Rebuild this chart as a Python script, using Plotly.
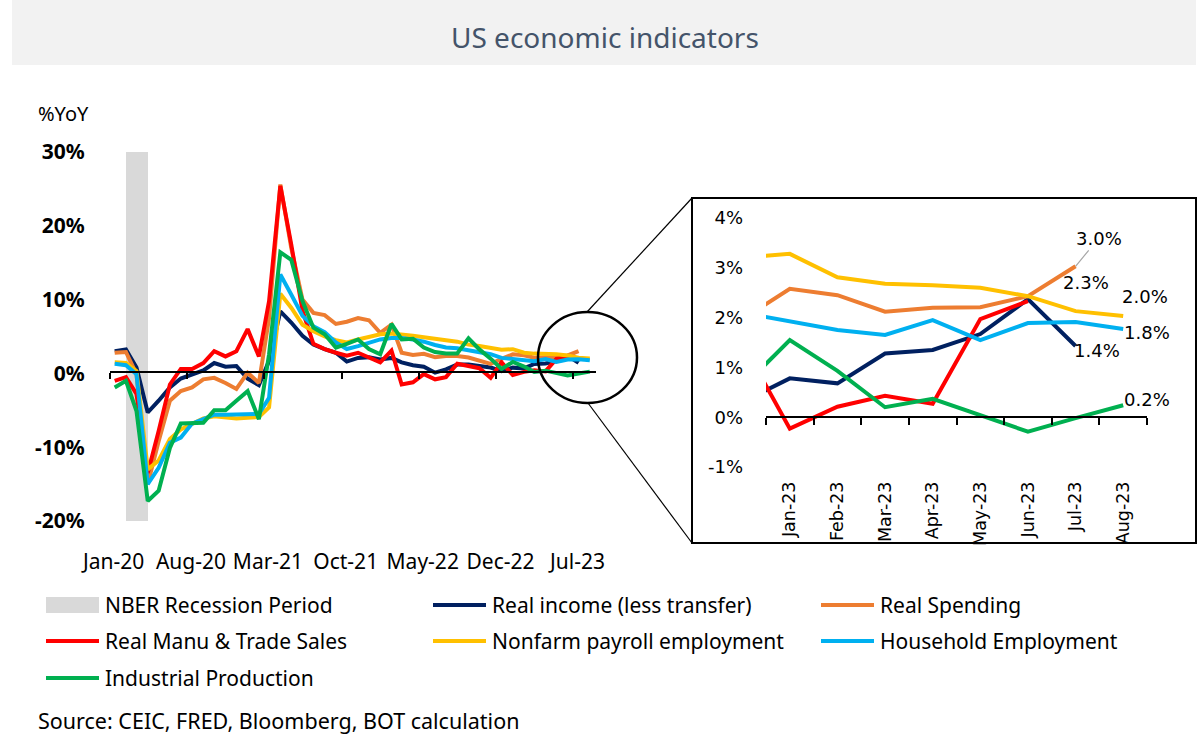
import pandas as pd
import plotly.graph_objects as go

W, H = 1204, 743

# ---------------- data ----------------
months = pd.date_range("2020-01-01", "2023-08-01", freq="MS")
dates = [(d + pd.Timedelta(days=14)).strftime("%Y-%m-%d") for d in months]

real_income = [3.0, 3.25, 0.8, -5.3, -3.7, -1.9, -0.7, -0.1, 0.4, 1.4, 0.9, 1.0,
               -0.7, -1.6, 1.7, 8.4, 6.9, 5.1, 3.9, 3.3, 2.8, 1.6, 2.1, 2.2,
               1.9, 2.1, 1.5, 1.1, 0.9, 0.1, 0.55, 1.2, 1.2, 1.0, 0.8, 0.3,
               0.78, 0.68, 1.28, 1.35, 1.67, 2.37, 1.43, None]
real_spending = [2.8, 2.9, -0.1, -15.0, -9.2, -3.7, -2.4, -1.9, -0.8, -0.6, -1.3, -2.1,
                 0.1, -1.3, 7.5, 25.6, 17.0, 10.0, 8.2, 7.9, 6.7, 7.0, 7.5, 7.2,
                 5.5, 6.6, 2.8, 2.5, 2.65, 2.2, 2.35, 2.35, 2.15, 1.8, 1.3, 1.96,
                 2.58, 2.45, 2.12, 2.2, 2.21, 2.43, 3.03, None]
real_sales = [-1.0, -0.5, -2.8, -13.5, -7.8, -1.5, 0.6, 0.6, 1.4, 3.0, 2.3, 3.0,
              6.0, 2.3, 9.8, 25.4, 17.5, 8.5, 4.0, 3.3, 2.8, 2.4, 2.8, 2.2,
              1.5, 3.1, -1.5, -1.2, -0.1, -0.8, -0.5, 1.3, 1.0, 0.7, -0.6, 1.5,
              -0.23, 0.21, 0.43, 0.27, 1.97, 2.33, None, None]
nonfarm = [1.5, 1.4, 0.3, -13.0, -11.8, -8.9, -7.6, -6.8, -6.1, -5.8, -5.9, -6.1,
           -6.0, -5.9, -4.6, 10.8, 8.9, 6.6, 5.7, 5.0, 4.5, 4.2, 4.6, 5.0,
           5.3, 5.4, 5.3, 5.1, 4.9, 4.75, 4.5, 4.3, 3.9, 3.7, 3.5, 3.2,
           3.28, 2.81, 2.68, 2.65, 2.6, 2.43, 2.13, 2.03]
household = [1.3, 1.1, -0.1, -15.0, -12.8, -9.4, -8.7, -6.8, -6.2, -5.6, -5.6, -5.6,
             -5.6, -5.5, -3.3, 13.4, 10.7, 7.8, 6.4, 5.6, 4.2, 3.3, 3.7, 4.2,
             4.6, 4.8, 4.8, 4.6, 4.3, 3.85, 3.5, 3.4, 3.1, 2.9, 2.6, 2.1,
             1.93, 1.75, 1.65, 1.95, 1.55, 1.89, 1.91, 1.77]
industrial = [-1.9, -1.0, -5.1, -17.3, -15.9, -10.1, -6.8, -6.7, -6.7, -5.0, -5.0, -3.7,
              -2.4, -6.2, 2.6, 16.4, 15.4, 9.8, 6.2, 5.3, 3.5, 4.0, 4.6, 3.3,
              2.6, 6.7, 4.6, 4.7, 3.5, 2.9, 2.7, 2.7, 4.75, 3.25, 2.0, 0.59,
              1.55, 0.93, 0.2, 0.37, 0.03, -0.29, -0.02, 0.24]

series_names = ["Real income (less transfer)", "Real Spending", "Real Manu & Trade Sales",
                "Nonfarm payroll employment", "Household Employment", "Industrial Production"]
series_values = [real_income, real_spending, real_sales, nonfarm, household, industrial]
series_colors = ["#002060", "#ED7D31", "#FF0000", "#FFC000", "#00B0F0", "#00B050"]

recession_name = "NBER Recession Period"
recession_months = ["2020-02-15", "2020-04-15"]
recession_color = "#D9D9D9"

main_tick_dates = ["2020-01-01", "2020-08-01", "2021-03-01", "2021-10-01",
                   "2022-05-01", "2022-12-01", "2023-07-01"]
main_tick_labels = ["Jan-20", "Aug-20", "Mar-21", "Oct-21", "May-22", "Dec-22", "Jul-23"]
main_y_ticks = [-20, -10, 0, 10, 20, 30]

inset_start = 35  # Dec-22 index (drawn clipped at left edge)
inset_labels = ["Jan-23", "Feb-23", "Mar-23", "Apr-23", "May-23", "Jun-23", "Jul-23", "Aug-23"]
inset_y_ticks = [-1, 0, 1, 2, 3, 4]

# end-point labels in the inset: (series index, month index, xshift, yshift)
end_labels = [(2, 41, 58, 19), (0, 42, 21, -5), (3, 43, 22, 20), (4, 43, 24, -3), (5, 43, 24, 6)]
arrow_label = (1, 42, 23, -28)

FONT = "Noto Sans"


def px(x):
    return x / W


def py(y):
    return 1 - y / H


fig = go.Figure()

# recession shading
r0 = pd.Timestamp(recession_months[0])
r1 = pd.Timestamp(recession_months[1])
mid = r0 + (r1 - r0) / 2
fig.add_trace(go.Bar(x=[mid.strftime("%Y-%m-%d %H:%M")], y=[main_y_ticks[-1] - main_y_ticks[0]],
                     base=[main_y_ticks[0]], width=[(r1 - r0).total_seconds() * 1000],
                     marker=dict(color=recession_color, line=dict(width=0)),
                     showlegend=False, hoverinfo="skip", xaxis="x", yaxis="y"))

# main lines
for name, vals, col in zip(series_names, series_values, series_colors):
    fig.add_trace(go.Scatter(x=dates, y=vals, mode="lines", name=name,
                             line=dict(color=col, width=4), showlegend=False,
                             connectgaps=False, xaxis="x", yaxis="y"))

# inset lines
inset_x = list(range(-1, len(inset_labels)))
for name, vals, col in zip(series_names, series_values, series_colors):
    fig.add_trace(go.Scatter(x=inset_x, y=vals[inset_start:], mode="lines", name=name,
                             line=dict(color=col, width=4), showlegend=False,
                             xaxis="x3", yaxis="y3"))

# dummy traces for the axis-at-zero overlays
fig.add_trace(go.Scatter(x=[dates[0]], y=[None], xaxis="x2", yaxis="y", showlegend=False, hoverinfo="skip"))
fig.add_trace(go.Scatter(x=[0], y=[None], xaxis="x4", yaxis="y3", showlegend=False, hoverinfo="skip"))

main_dom_x = [px(109.6), px(596)]
main_dom_y = [py(521), py(152)]
inset_dom_x = [px(766), px(1147)]
inset_dom_y = [py(467), py(218)]

xr = ["2020-01-01", "2023-09-01"]

fig.update_layout(
    width=W, height=H, autosize=False,
    margin=dict(l=0, r=0, t=0, b=0, pad=0, autoexpand=False),
    paper_bgcolor="white", plot_bgcolor="rgba(0,0,0,0)",
    font=dict(family=FONT, color="black"),
    showlegend=False,
    bargap=0,
    xaxis=dict(type="date", domain=main_dom_x, range=xr, anchor="y", automargin=False,
               tickvals=main_tick_dates, ticktext=main_tick_labels,
               tickfont=dict(size=21, color="black"), ticks="", showline=False,
               showgrid=False, zeroline=False, ticklabelstandoff=26, ticklabelshift=4),
    xaxis2=dict(type="date", domain=main_dom_x, range=xr, overlaying="x", anchor="free",
                position=py(372.4), tickvals=main_tick_dates, showticklabels=False,
                automargin=False,
                showline=True, linecolor="black", linewidth=1.5, ticks="outside",
                ticklen=6, tickwidth=1.5, tickcolor="black", showgrid=False, zeroline=False),
    yaxis=dict(domain=main_dom_y, range=[main_y_ticks[0], main_y_ticks[-1]], anchor="x",
               automargin=False,
               tickvals=main_y_ticks, ticktext=[f"{v}%" for v in main_y_ticks],
               tickfont=dict(size=21, color="black", weight="bold"),
               ticks="", showline=False, showgrid=False, zeroline=False, ticklabelstandoff=24),
    xaxis3=dict(domain=inset_dom_x, range=[-0.5, len(inset_labels) - 0.5], anchor="y3",
                automargin=False,
                tickvals=list(range(len(inset_labels))), ticktext=inset_labels, tickangle=-90,
                tickfont=dict(size=17.5, color="black", family="DejaVu Sans"), ticks="", showline=False,
                showgrid=False, zeroline=False, ticklabelstandoff=10),
    xaxis4=dict(domain=inset_dom_x, range=[-0.5, len(inset_labels) - 0.5], overlaying="x3",
                anchor="free", position=py(416.7), automargin=False,
                tickvals=[i - 0.5 for i in range(len(inset_labels) + 1)], showticklabels=False,
                showline=True, linecolor="black", linewidth=2, ticks="outside", ticklen=7,
                tickwidth=2, tickcolor="black", showgrid=False, zeroline=False),
    yaxis3=dict(domain=inset_dom_y, range=[inset_y_ticks[0], inset_y_ticks[-1]], anchor="x3",
                automargin=False,
                tickvals=inset_y_ticks, ticktext=[f"{v}%" for v in inset_y_ticks],
                tickfont=dict(size=18, color="black", family="DejaVu Sans"),
                ticks="", showline=False, showgrid=False, zeroline=False, ticklabelstandoff=22),
)

shapes = []
# title band
shapes.append(dict(type="rect", xref="paper", yref="paper", x0=px(12), x1=px(1196),
                   y0=py(65), y1=py(0), fillcolor="#F2F2F2", line=dict(width=0), layer="below"))
# inset frame
shapes.append(dict(type="rect", xref="paper", yref="paper", x0=px(692), x1=px(1196),
                   y0=py(543), y1=py(198), line=dict(color="black", width=2)))
# zoom circle
shapes.append(dict(type="circle", xref="paper", yref="paper", x0=px(538), x1=px(637),
                   y0=py(403), y1=py(312), line=dict(color="black", width=2.5)))
# connectors
shapes.append(dict(type="line", xref="paper", yref="paper", x0=px(587), y0=py(312),
                   x1=px(692), y1=py(198), line=dict(color="black", width=1.2)))
shapes.append(dict(type="line", xref="paper", yref="paper", x0=px(588), y0=py(403),
                   x1=px(692), y1=py(543), line=dict(color="black", width=1.2)))

annotations = []
annotations.append(dict(text="US economic indicators", xref="paper", yref="paper",
                        x=px(605), y=py(37), xanchor="center", yanchor="middle", showarrow=False,
                        font=dict(size=28, color="#44546A", family=FONT)))
annotations.append(dict(text="%YoY", xref="paper", yref="paper", x=px(36), y=py(113),
                        xanchor="left", yanchor="middle", showarrow=False,
                        font=dict(size=20, color="black")))
annotations.append(dict(text="Source: CEIC, FRED, Bloomberg, BOT calculation", xref="paper",
                        yref="paper", x=px(36), y=py(720), xanchor="left", yanchor="middle",
                        showarrow=False, font=dict(size=21.5, color="black")))

# custom legend
legend_items = [(recession_name, recession_color, "rect")] + \
               [(n, c, "line") for n, c in zip(series_names, series_colors)]
col_x = [46, 433, 821]
row_y = [605, 641, 678]
for i, (name, col, kind) in enumerate(legend_items):
    r, c = divmod(i, 3)
    x0 = col_x[c]
    x1 = x0 + 53
    y = row_y[r]
    if kind == "rect":
        shapes.append(dict(type="rect", xref="paper", yref="paper", x0=px(x0), x1=px(x1),
                           y0=py(y + 8), y1=py(y - 8), fillcolor=col, line=dict(width=0)))
    else:
        shapes.append(dict(type="line", xref="paper", yref="paper", x0=px(x0), x1=px(x1),
                           y0=py(y), y1=py(y), line=dict(color=col, width=4)))
    annotations.append(dict(text=name, xref="paper", yref="paper", x=px(x1 + 4), y=py(y),
                            xanchor="left", yanchor="middle", showarrow=False,
                            font=dict(size=21, color="black")))

# inset end labels
for si, mi, dx, dy in end_labels:
    v = series_values[si][mi]
    annotations.append(dict(text=f"{v:.1f}%", xref="x3", yref="y3", x=mi - inset_start - 1, y=v,
                            xshift=dx, yshift=dy, showarrow=False,
                            font=dict(size=18, color="black", family="DejaVu Sans")))
si, mi, ax, ay = arrow_label
v = series_values[si][mi]
annotations.append(dict(text=f"{v:.1f}%", xref="x3", yref="y3", x=mi - inset_start - 1, y=v,
                        ax=ax, ay=ay, showarrow=True, arrowhead=0, arrowwidth=1.2,
                        arrowcolor="#A6A6A6", standoff=0,
                        font=dict(size=18, color="black", family="DejaVu Sans")))

fig.update_layout(shapes=shapes, annotations=annotations)
fig.write_html("out.html", config={"displayModeBar": False},
               post_script="document.body.style.margin='0';")
